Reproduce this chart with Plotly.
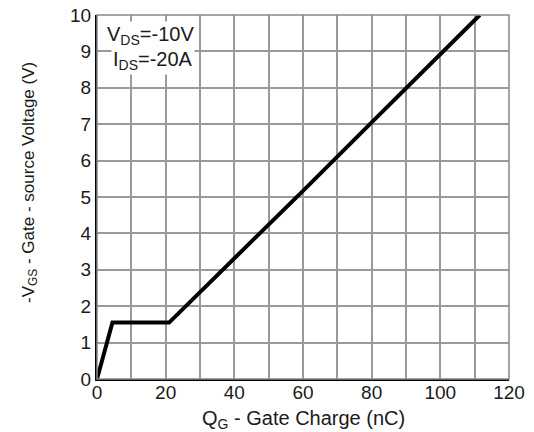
import plotly.graph_objects as go

qg = [0, 4.5, 21, 30, 40, 60, 80, 100, 111.5]
vgs = [0, 1.55, 1.55, 2.38, 3.3, 5.17, 7.05, 8.93, 10]
x_ticks = [0, 20, 40, 60, 80, 100, 120]
y_ticks = list(range(0, 11))

fig = go.Figure()
fig.add_trace(go.Scatter(x=qg, y=vgs, mode="lines",
                         line=dict(color="black", width=4), showlegend=False))

fig.update_layout(
    width=526, height=424,
    margin=dict(l=89, r=25, t=7, b=53),
    paper_bgcolor="white", plot_bgcolor="white",
    font=dict(family="Liberation Sans, Arial", size=19, color="#1a1a1a"),
    xaxis=dict(range=[0, 120], tickvals=x_ticks, automargin=False,
               showgrid=True, gridcolor="#9a9a9a", gridwidth=1.5,
               minor=dict(dtick=10, tick0=0, showgrid=True, gridcolor="#9a9a9a", gridwidth=1.5),
               showline=True, linecolor="black", linewidth=2,
               ticks="", zeroline=False, tickfont=dict(size=19),
               ticklabeloverflow="allow", ticklabelstandoff=-5),
    yaxis=dict(range=[0, 10], tickvals=y_ticks, automargin=False,
               showgrid=True, gridcolor="#9a9a9a", gridwidth=1.5,
               showline=True, linecolor="black", linewidth=2,
               ticks="", zeroline=False, tickfont=dict(size=19),
               ticklabeloverflow="allow"),
    shapes=[dict(type="rect", xref="paper", yref="paper", x0=0, y0=0, x1=1, y1=1,
                 line=dict(color="#888888", width=1.5), layer="above")],
    annotations=[
        dict(xref="paper", yref="paper", x=0.5, y=-0.11, xanchor="center", yanchor="middle",
             text="Q<sub>G</sub> - Gate Charge (nC)", showarrow=False,
             font=dict(size=20)),
        dict(xref="paper", yref="paper", x=-0.163, y=0.541, xanchor="center", yanchor="middle",
             text="-V<sub>GS</sub> - Gate - source Voltage (V)", showarrow=False, textangle=-90,
             font=dict(size=17)),
        dict(xref="x", yref="y", x=2.3, y=9.45, xanchor="left", yanchor="middle",
             text="V<sub>DS</sub>=-10V", showarrow=False, bgcolor="white",
             font=dict(size=20)),
        dict(xref="x", yref="y", x=4.2, y=8.75, xanchor="left", yanchor="middle",
             text="I<sub>DS</sub>=-20A", showarrow=False, bgcolor="white",
             font=dict(size=20)),
    ],
)
fig.write_html("out.html")
